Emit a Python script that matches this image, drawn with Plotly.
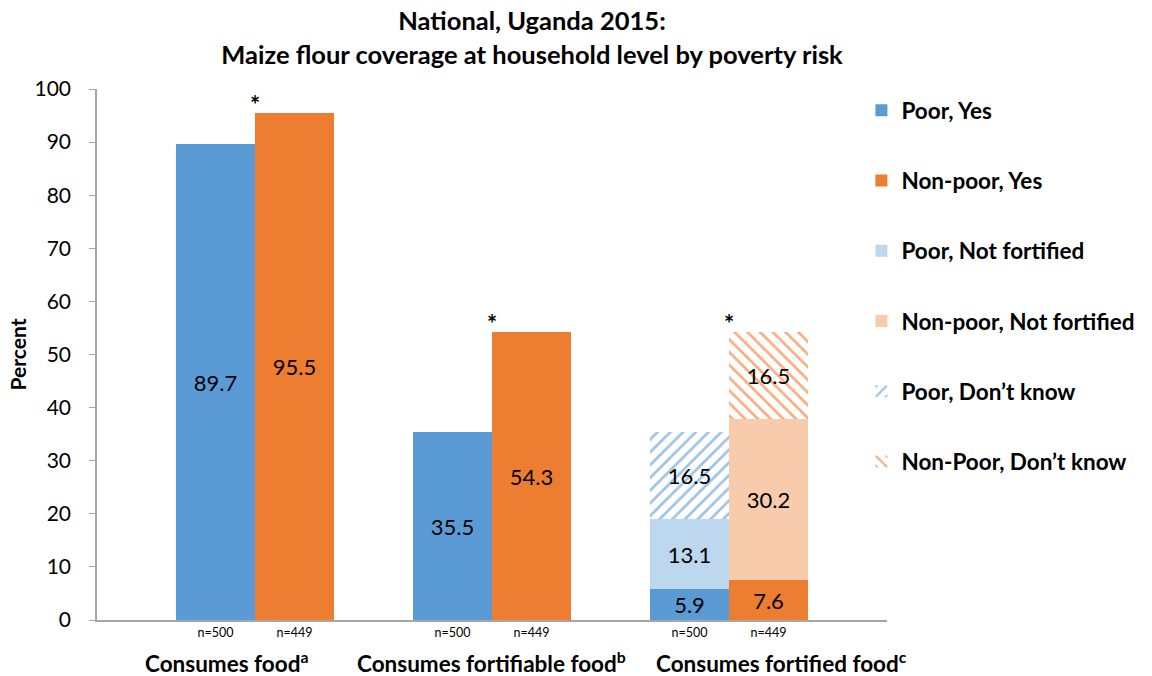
import plotly.graph_objects as go

# ---- data ----
group_labels = ["Consumes food<sup>a</sup>", "Consumes fortifiable food<sup>b</sup>", "Consumes fortified food<sup>c</sup>"]
poor_x = [1, 4, 7]
nonpoor_x = [2, 5, 8]
n_labels = ["n=500", "n=449", "n=500", "n=449", "n=500", "n=449"]
poor_yes = [89.7, 35.5, 5.9]
nonpoor_yes = [95.5, 54.3, 7.6]
poor_not_fortified = [13.1]
nonpoor_not_fortified = [30.2]
poor_dont_know = [16.5]
nonpoor_dont_know = [16.5]
star_x = [1.5, 4.5, 7.5]
star_y = [95.5, 54.3, 54.3]

FONT = "Lato"
BLUE = "#5B9BD5"
ORANGE = "#ED7D31"
LBLUE = "#BDD7EE"
LORANGE = "#F8CBAD"

fig = go.Figure()

def add_bar(name, x, y, color, group, pattern=None):
    kw = dict(marker_color=color, marker_line_width=0)
    if pattern is not None:
        kw = dict(marker=dict(color="white", line=dict(width=0), pattern=pattern))
    fig.add_trace(go.Bar(
        name=f"<b>{name}</b>", x=x, y=y, width=1, legendgroup=group,
        text=[f"{v:.1f}" for v in y], textposition="inside", insidetextanchor="middle",
        textfont=dict(family=FONT, size=22, color="black"), constraintext="none",
        hoverinfo="skip", **kw))

add_bar("Poor, Yes", poor_x, poor_yes, BLUE, "g1")
add_bar("Non-poor, Yes", nonpoor_x, nonpoor_yes, ORANGE, "g2")
add_bar("Poor, Not fortified", [poor_x[2]], poor_not_fortified, LBLUE, "g3")
add_bar("Non-poor, Not fortified", [nonpoor_x[2]], nonpoor_not_fortified, LORANGE, "g4")
add_bar("Poor, Don\u2019t know", [poor_x[2]], poor_dont_know, "white", "g5",
        pattern=dict(shape="/", fgcolor="#9CC3E8", bgcolor="white", size=9, solidity=0.3, fillmode="replace"))
add_bar("Non-Poor, Don\u2019t know", [nonpoor_x[2]], nonpoor_dont_know, "white", "g6",
        pattern=dict(shape="\\", fgcolor="#F6AE80", bgcolor="white", size=9, solidity=0.3, fillmode="replace"))

annotations = []
for sx, sy in zip(star_x, star_y):
    annotations.append(dict(x=sx, y=sy, xref="x", yref="y", text="<b>*</b>", showarrow=False,
                            yanchor="bottom", yshift=-8, font=dict(family=FONT, size=24, color="black")))
group_px = [1.133, 4.494, 8.16]
for gx, gl in zip(group_px, group_labels):
    annotations.append(dict(x=gx, y=0, xref="x", yref="paper", text=f"<b>{gl}</b>", showarrow=False,
                            yanchor="middle", yshift=-42, font=dict(family=FONT, size=22.5, color="black")))

fig.update_layout(
    width=1152, height=676,
    barmode="stack", bargap=0,
    plot_bgcolor="white", paper_bgcolor="white",
    margin=dict(l=97, r=252, t=89, b=56),
    font=dict(family=FONT, color="black"),
    title=dict(text="<b>National, Uganda 2015:<br>Maize flour coverage at household level by poverty risk</b>",
               x=532/1152, xanchor="center", y=0.955, yanchor="top",
               font=dict(family=FONT, size=25.5, color="black")),
    xaxis=dict(range=[-0.5, 9.5], tickmode="array",
               tickvals=[poor_x[0], nonpoor_x[0], poor_x[1], nonpoor_x[1], poor_x[2], nonpoor_x[2]],
               ticktext=n_labels, ticks="", showline=True, linecolor="#A6A6A6", linewidth=1.5,
               tickfont=dict(family=FONT, size=12.5, color="black"), showgrid=False, zeroline=False, fixedrange=True),
    yaxis=dict(range=[0, 100], dtick=10, ticks="outside", ticklen=6, tickcolor="#A6A6A6",
               ticklabelstandoff=14,
               showline=True, linecolor="#A6A6A6", linewidth=1.5, showgrid=False, zeroline=False,
               tickfont=dict(family=FONT, size=21, color="black"),
               title=dict(text="<b>Percent</b>", font=dict(family=FONT, size=21, color="black"), standoff=2)),
    legend=dict(x=0.9676, xanchor="left", y=1.0, yanchor="top", tracegroupgap=38, itemwidth=30,
                maxheight=660,
                font=dict(family=FONT, size=22.5, color="black"), traceorder="grouped",
                itemclick=False, itemdoubleclick=False),
    annotations=annotations,
)

fig.write_html("out.html", config={"displayModeBar": False},
               post_script="document.body.style.margin='0';document.body.style.padding='0';")
